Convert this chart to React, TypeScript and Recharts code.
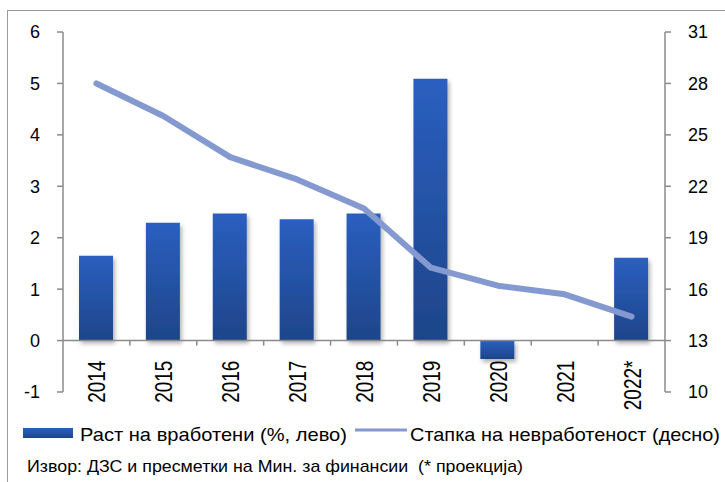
import React from 'react';
import { ComposedChart, Bar, Line, XAxis, YAxis, ReferenceLine, Rectangle } from 'recharts';

const categories = ['2014', '2015', '2016', '2017', '2018', '2019', '2020', '2021', '2022*'];
const employmentGrowth = [1.65, 2.29, 2.47, 2.36, 2.47, 5.09, -0.36, 0, 1.61];
const unemploymentRate = [28.0, 26.1, 23.7, 22.4, 20.7, 17.25, 16.2, 15.7, 14.4];
const leftTicks = [-1, 0, 1, 2, 3, 4, 5, 6];
const rightTicks = [10, 13, 16, 19, 22, 25, 28, 31];
const barLegend = 'Раст на вработени (%, лево)';
const lineLegend = 'Стапка на невработеност (десно)';
const sourceNote = 'Извор: ДЗС и пресметки на Мин. за финансии  (* проекција)';

const data = categories.map((c, i) => ({ category: c, growth: employmentGrowth[i], rate: unemploymentRate[i] }));

const W = 725;
const H = 482;
const FONT = "'Liberation Sans', Arial, sans-serif";
const AXIS = '#8a8a8a';
const LINE_COLOR = '#8599d1';
const M = { top: 32, right: 0, left: 0, bottom: 60 };
const X_AXIS_H = 30;
const LEFT_W = 63;
const RIGHT_W = 60;
const PLOT_TOP = M.top;
const PLOT_BOTTOM = H - M.bottom - X_AXIS_H;
const PLOT_W = W - LEFT_W - RIGHT_W;
const BAND = PLOT_W / categories.length;
const LMIN = leftTicks[0];
const LMAX = leftTicks[leftTicks.length - 1];
const zeroY = PLOT_TOP + ((PLOT_BOTTOM - PLOT_TOP) * (LMAX - 0)) / (LMAX - LMIN);

const XTick = (props: any) => {
  const { x, payload, index } = props;
  return (
    <g>
      {index > 0 && (
        <line x1={x - BAND / 2} x2={x - BAND / 2} y1={zeroY} y2={zeroY + 5} stroke={AXIS} strokeWidth={1.5} />
      )}
      <text
        transform={`translate(${x + 9},${zeroY + 20}) rotate(-90) scale(0.95,1.15)`}
        textAnchor="end"
        fontSize={20}
        fill="#000"
        fontFamily={FONT}
      >
        {payload.value}
      </text>
    </g>
  );
};

const BarShape = (props: any) => {
  const { x, y, width, height } = props;
  if (!height) return null;
  return (
    <g filter="url(#barShadow)">
      <Rectangle x={x} y={y} width={width} height={height} fill="url(#barGrad)" />
    </g>
  );
};

export default function App() {
  return (
    <div style={{ position: 'absolute', left: 0, top: 0, width: W, height: H, overflow: 'hidden', background: '#fff' }}>
      <div
        style={{
          position: 'absolute',
          left: 7,
          top: 10,
          width: 800,
          height: 600,
          border: '1px solid #9a9a9a',
        }}
      />
      <div style={{ position: 'absolute', left: 0, top: 0 }}>
        <ComposedChart width={W} height={H} data={data} margin={M}>
          <defs>
            <linearGradient id="barGrad" x1="0" y1="0" x2="0" y2="1">
              <stop offset="0%" stopColor="#2a5fc0" />
              <stop offset="100%" stopColor="#1e4589" />
            </linearGradient>
            <filter id="barShadow" x="-30%" y="-30%" width="160%" height="160%">
              <feDropShadow dx="2" dy="3" stdDeviation="2" floodColor="#000" floodOpacity="0.3" />
            </filter>
          </defs>
          <XAxis
            dataKey="category"
            height={X_AXIS_H}
            axisLine={false}
            tickLine={false}
            interval={0}
            tick={<XTick />}
          />
          <YAxis
            yAxisId="left"
            orientation="left"
            width={LEFT_W}
            domain={[LMIN, LMAX]}
            ticks={leftTicks}
            interval={0}
            tickSize={6}
            tickMargin={17}
            axisLine={{ stroke: AXIS, strokeWidth: 1.5 }}
            tickLine={{ stroke: AXIS, strokeWidth: 1.5 }}
            tick={{ fontSize: 18, fill: '#000', fontFamily: FONT }}
          />
          <YAxis
            yAxisId="right"
            orientation="right"
            width={RIGHT_W}
            domain={[rightTicks[0], rightTicks[rightTicks.length - 1]]}
            ticks={rightTicks}
            interval={0}
            tickSize={6}
            tickMargin={17}
            axisLine={{ stroke: AXIS, strokeWidth: 1.5 }}
            tickLine={{ stroke: AXIS, strokeWidth: 1.5 }}
            tick={{ fontSize: 18, fill: '#000', fontFamily: FONT }}
          />
          <Bar yAxisId="left" dataKey="growth" barSize={34} shape={BarShape} isAnimationActive={false} />
          <ReferenceLine yAxisId="left" y={0} stroke={AXIS} strokeWidth={1.5} />
          <Line
            yAxisId="right"
            dataKey="rate"
            type="linear"
            stroke={LINE_COLOR}
            strokeWidth={6}
            strokeLinecap="round"
            strokeLinejoin="round"
            dot={false}
            activeDot={false}
            isAnimationActive={false}
          />
        </ComposedChart>
      </div>
      <svg width={W} height={H} style={{ position: 'absolute', left: 0, top: 0, pointerEvents: 'none' }}>
        <defs>
          <linearGradient id="legendGrad" x1="0" y1="0" x2="0" y2="1">
            <stop offset="0%" stopColor="#2a5fc0" />
            <stop offset="100%" stopColor="#1e4589" />
          </linearGradient>
        </defs>
        <rect x={23} y={428} width={50} height={10} fill="url(#legendGrad)" />
        <text x={80} y={441} fontSize={19} fontFamily={FONT} fill="#000" textLength={267} lengthAdjust="spacingAndGlyphs">
          {barLegend}
        </text>
        <line x1={355} x2={407} y1={430} y2={430} stroke={LINE_COLOR} strokeWidth={3} />
        <text x={410} y={441} fontSize={19} fontFamily={FONT} fill="#000" textLength={310} lengthAdjust="spacingAndGlyphs">
          {lineLegend}
        </text>
        <text
          x={27}
          y={472}
          fontSize={17}
          fontFamily={FONT}
          fill="#000"
          textLength={496}
          lengthAdjust="spacingAndGlyphs"
          style={{ whiteSpace: 'pre' }}
        >
          {sourceNote}
        </text>
      </svg>
    </div>
  );
}
